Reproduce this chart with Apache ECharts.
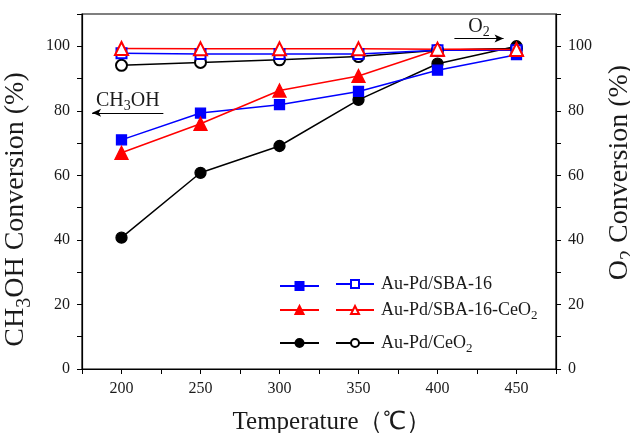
<!DOCTYPE html>
<html>
<head>
<meta charset="utf-8">
<script src="https://cdn.jsdelivr.net/npm/echarts@6/dist/echarts.min.js"></script>
<style>
html,body{margin:0;padding:0;background:#fff;}
#chart{width:630px;height:433px;}
</style>
</head>
<body>
<div id="chart"></div>
<script>
// ---- data ----
const temperatures = [200, 250, 300, 350, 400, 450];
const ch3ohSBA16   = [71.0, 79.3, 81.9, 86.0, 92.6, 97.4];
const ch3ohSBA16Ce = [67.0, 76.0, 86.3, 90.8, 98.9, 99.2];
const ch3ohCeO2    = [40.7, 60.8, 69.1, 83.4, 94.6, 100.0];
const o2SBA16      = [97.8, 97.6, 97.6, 97.6, 98.8, 98.8];
const o2SBA16Ce    = [99.3, 99.2, 99.2, 99.2, 99.1, 99.0];
const o2CeO2       = [94.1, 95.0, 95.8, 96.8, 98.8, 99.3];
const xTickLabels  = [200, 250, 300, 350, 400, 450];
const yTickLabels  = [0, 20, 40, 60, 80, 100];
const legendNames  = ['Au-Pd/SBA-16', 'Au-Pd/SBA-16-CeO{s|2}', 'Au-Pd/CeO{s|2}'];

const FONT = '"Liberation Serif", "Times New Roman", serif';
const TXT = '#1a1a1a';
function rich(size){
  const s = Math.round(size*0.7);
  return {
    n:{fontSize:size,fontFamily:FONT,color:TXT,lineHeight:Math.round(size*1.2)},
    s:{fontSize:s,fontFamily:FONT,color:TXT,lineHeight:s,padding:[Math.round(s*0.8),0,0,0],verticalAlign:'top'}
  };
}
function wrapRich(str){
  return str.split(/(\{s\|[^}]*\})/).filter(p=>p.length).map(p=>p.startsWith('{s|')?p:'{n|'+p+'}').join('');
}
const pts = arr => temperatures.map((t,i)=>[t,arr[i]]);

const chart = echarts.init(document.getElementById('chart'), null, {renderer:'canvas'});

function mkSeries(name, data, color, symbol, size, yIdx, extra){
  return Object.assign({
    name, type:'line', data:pts(data), yAxisIndex:yIdx,
    symbol, symbolSize:size, showSymbol:true,
    lineStyle:{color, width:1.5},
    itemStyle:{color, borderColor:color, borderWidth:1.3},
    emphasis:{disabled:true}, animation:false, z: 3
  }, extra||{});
}

const arrowLine = (from, to, symbols, text, size) => ({
  silent:true, symbol:symbols, symbolSize:[6,9],
  lineStyle:{color:'#000', width:1, type:'solid'},
  label:{show:true, position:'middle', distance:0, formatter:wrapRich(text), rich:rich(size)},
  data:[[{coord:from},{coord:to}]]
});

const names = {
  fB:'SBA16 CH3OH', fR:'SBA16Ce CH3OH', fK:'CeO2 CH3OH',
  oB:legendNames[0], oR:legendNames[1], oK:legendNames[2]
};

const series = [
  mkSeries(names.fK, ch3ohCeO2, '#000000', 'circle', 11, 0),
  mkSeries(names.fB, ch3ohSBA16, '#0000ff', 'rect', 10, 0, {
    markLine: arrowLine([181.4,79.4],[226.5,79.4],['arrow','none'],'CH{s|3}OH',20)
  }),
  mkSeries(names.fR, ch3ohSBA16Ce, '#ff0000', 'triangle', 13, 0),
  mkSeries(names.oK, o2CeO2, '#000000', 'emptyCircle', 11, 1),
  mkSeries(names.oB, o2SBA16, '#0000ff', 'emptyRect', 10, 1, {
    markLine: arrowLine([410.7,102.4],[441.8,102.4],['none','arrow'],'O{s|2}',20)
  }),
  mkSeries(names.oR, o2SBA16Ce, '#ff0000', 'emptyTriangle', 13, 1)
];

function legendRow(name, left, center, width, withText){
  const h = withText ? 22 : 10;
  return {
    data:[name], left, top: center - h/2, orient:'horizontal', selectedMode:false,
    itemWidth:width, itemHeight:10, itemGap:0, padding:0,
    formatter: withText ? (n=>wrapRich(n)) : (()=>''),
    textStyle:{fontFamily:FONT,fontSize:18,color:TXT,rich:rich(18),padding:[0,0,0,2]}
  };
}

const legends = [
  legendRow(names.fB, 279, 286, 39, false),
  legendRow(names.oB, 335, 286, 38, true),
  legendRow(names.fR, 279, 310, 39, false),
  legendRow(names.oR, 335, 310, 38, true),
  legendRow(names.fK, 279, 343, 39, false),
  legendRow(names.oK, 335, 343, 38, true)
];

const yAxisBase = {
  type:'value', min:0, max:110, interval:10,
  axisLine:{show:true, lineStyle:{color:'#000', width:1.2}},
  axisTick:{show:true, length:5, lineStyle:{color:'#000', width:1}},
  splitLine:{show:false},
  axisLabel:{fontFamily:FONT, fontSize:16, color:TXT, margin:12,
    formatter:v => yTickLabels.includes(v) ? String(v) : ''},
  nameLocation:'middle', nameRotate:90
};

const option = {
  backgroundColor:'#fff',
  animation:false,
  grid:{left:82, right:74, top:14, bottom:64, containLabel:false, outerBoundsMode:'none',
        show:true, borderColor:'#000', borderWidth:1.2, backgroundColor:'transparent'},
  legend: legends,
  xAxis:{
    type:'value', min:175, max:475, interval:25,
    axisLine:{show:true, lineStyle:{color:'#000', width:1.2}},
    axisTick:{show:true, length:5, lineStyle:{color:'#000', width:1}},
    splitLine:{show:false},
    axisLabel:{fontFamily:FONT, fontSize:16, color:TXT, margin:12,
      formatter:v => xTickLabels.includes(v) ? String(v) : ''},
    name:'Temperature（℃）', nameLocation:'middle', nameGap:41,
    nameTextStyle:{fontFamily:FONT, fontSize:25, color:TXT, padding:[0,0,0,26]}
  },
  yAxis:[
    Object.assign({}, yAxisBase, {
      position:'left', name:wrapRich('CH{s|3}OH Conversion (%)'), nameGap:37,
      nameTextStyle:{fontFamily:FONT, fontSize:28, color:TXT, rich:rich(28), padding:[0,36,0,0]}
    }),
    Object.assign({}, yAxisBase, {
      position:'right', name:wrapRich('O{s|2} Conversion (%)'), nameGap:36,
      nameTextStyle:{fontFamily:FONT, fontSize:28, color:TXT, rich:rich(28), padding:[0,0,0,38]}
    })
  ],
  series
};
chart.setOption(option);
</script>
</body>
</html>
